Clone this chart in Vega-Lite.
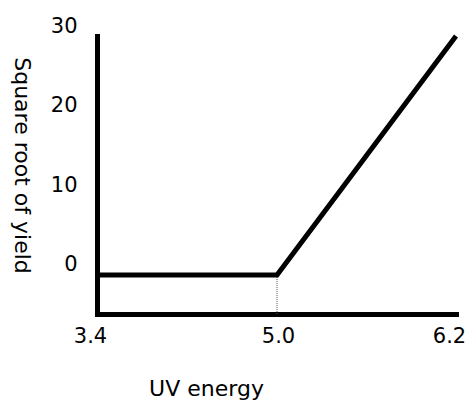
{
  "$schema": "https://vega.github.io/schema/vega-lite/v6.json",
  "autosize": {"type": "none"},
  "width": 359,
  "height": 278,
  "padding": {"left": 97, "top": 36, "right": 15, "bottom": 87},
  "background": "white",
  "config": {
    "view": {"stroke": null},
    "font": "DejaVu Sans"
  },
  "datasets": {
    "curve": [
      {"energy": 3.4, "yield": 0},
      {"energy": 5.0, "yield": 0},
      {"energy": 6.2, "yield": 30}
    ],
    "threshold": [
      {"energy": 5.0, "yield": 0, "floor": -4.9}
    ]
  },
  "layer": [
    {
      "data": {"name": "threshold"},
      "mark": {"type": "rule", "color": "#555555", "strokeWidth": 1, "strokeDash": [1, 1]},
      "encoding": {
        "x": {"field": "energy", "type": "quantitative"},
        "y": {"field": "yield", "type": "quantitative"},
        "y2": {"field": "floor"}
      }
    },
    {
      "data": {"name": "curve"},
      "mark": {"type": "line", "color": "black", "strokeWidth": 5, "strokeJoin": "miter"},
      "encoding": {
        "x": {
          "field": "energy",
          "type": "quantitative",
          "scale": {"domain": [3.4, 5.0, 6.2], "range": [0, 180, 359], "nice": false, "zero": false},
          "axis": {
            "title": "UV energy",
            "values": [3.4, 5.0, 6.2],
            "format": ".1f",
            "grid": false,
            "ticks": false,
            "tickSize": 0,
            "domainColor": "black",
            "domainWidth": 5,
            "domainCap": "square",
            "labelFont": "DejaVu Sans",
            "labelFontSize": 21,
            "labelColor": "black",
            "labelBaseline": "alphabetic",
            "labelPadding": 28,
            "labelAlign": "center",
            "labelOffset": {"condition": {"test": "datum.value == 5", "value": 1}, "value": -7},
            "labelFlush": false,
            "labelOverlap": false,
            "titleFont": "DejaVu Sans",
            "titleFontSize": 22,
            "titleFontWeight": "normal",
            "titleColor": "black",
            "titleX": 109,
            "titleY": 81,
            "titleAlign": "center",
            "titleBaseline": "alphabetic"
          }
        },
        "y": {
          "field": "yield",
          "type": "quantitative",
          "scale": {"domain": [-4.9, 30], "nice": false, "zero": false},
          "axis": {
            "title": "Square root of yield",
            "values": [0, 10, 20, 30],
            "grid": false,
            "ticks": false,
            "tickSize": 0,
            "domainColor": "black",
            "domainWidth": 5,
            "domainCap": "square",
            "labelFont": "DejaVu Sans",
            "labelFontSize": 21,
            "labelColor": "black",
            "labelPadding": 20,
            "labelOffset": -10,
            "labelBaseline": "middle",
            "labelFlush": false,
            "labelOverlap": false,
            "titleFont": "DejaVu Sans",
            "titleFontSize": 22,
            "titleFontWeight": "normal",
            "titleColor": "black",
            "titleAngle": 90,
            "titleX": -76,
            "titleY": 129,
            "titleAlign": "center",
            "titleBaseline": "middle"
          }
        }
      }
    }
  ]
}
